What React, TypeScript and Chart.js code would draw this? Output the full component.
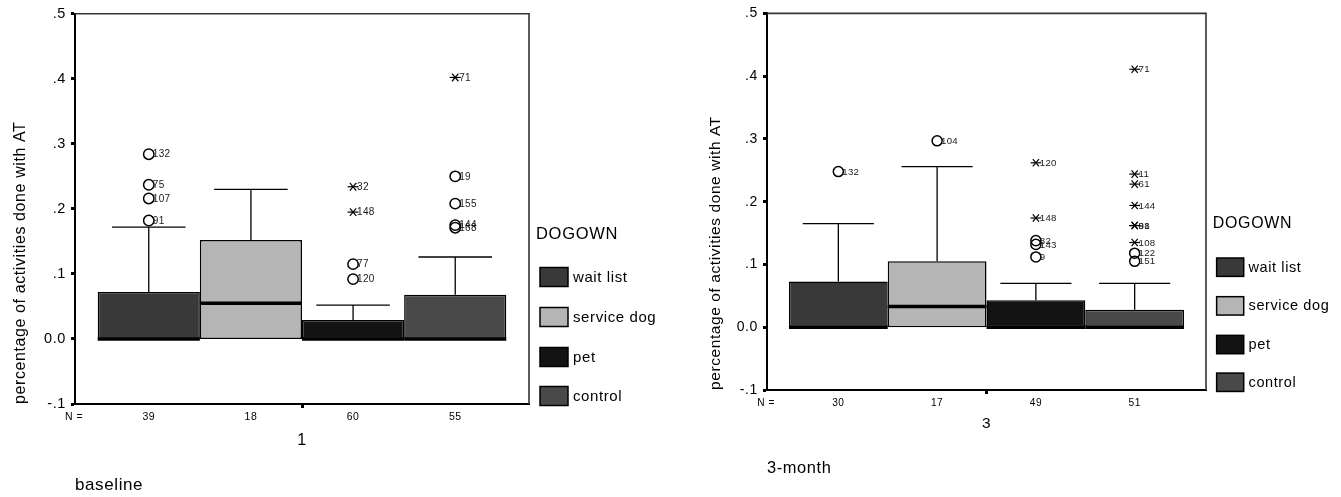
import React, { useEffect, useRef } from "react";
import { Chart, registerables } from "chart.js";

Chart.register(...registerables);

const FONT = "'Liberation Sans', Arial, Helvetica, sans-serif";

// ---------- shared ----------
const groupNames = ["wait list", "service dog", "pet", "control"];
const groupColors = ["#393939", "#b5b5b5", "#131313", "#494949"];
const legendTitle = "DOGOWN";
const yAxisTitle = "percentage of activities done with AT";
const yMin = -0.1;
const yMax = 0.5;
const yStep = 0.1;

// ---------- baseline panel ----------
const baselineCategories = ["1"];
const baselineTitle = "baseline";
const baselineN = [39, 18, 60, 55];
const baselineLowerWhisker = [0, 0, 0, 0];
const baselineQ1 = [0, 0, 0, 0];
const baselineMedian = [0, 0.055, 0, 0];
const baselineQ3 = [0.072, 0.152, 0.029, 0.068];
const baselineUpperWhisker = [0.172, 0.23, 0.052, 0.126];
const baselineOutlierValues = [[0.284, 0.237, 0.216, 0.182], [], [0.115, 0.092], [0.25, 0.208, 0.175, 0.171]];
const baselineOutlierIds = [["132", "75", "107", "91"], [], ["77", "120"], ["19", "155", "144", "168"]];
const baselineExtremeValues = [[], [], [0.234, 0.195], [0.402]];
const baselineExtremeIds = [[], [], ["32", "148"], ["71"]];

// ---------- 3-month panel ----------
const monthCategories = ["3"];
const monthTitle = "3-month";
const monthN = [30, 17, 49, 51];
const monthLowerWhisker = [0, 0, 0, 0];
const monthQ1 = [0, 0, 0, 0];
const monthMedian = [0, 0.033, 0, 0];
const monthQ3 = [0.073, 0.105, 0.043, 0.028];
const monthUpperWhisker = [0.165, 0.256, 0.07, 0.07];
const monthOutlierValues = [[0.248], [0.297], [0.138, 0.132, 0.112], [0.118, 0.105]];
const monthOutlierIds = [["132"], ["104"], ["82", "143", "9"], ["122", "151"]];
const monthExtremeValues = [[], [], [0.262, 0.174], [0.411, 0.244, 0.228, 0.194, 0.162, 0.162, 0.135]];
const monthExtremeIds = [[], [], ["120", "148"], ["71", "11", "61", "144", "98", "81", "108"]];

type PanelData = {
  categories: string[];
  title: string;
  n: number[];
  lo: number[];
  q1: number[];
  med: number[];
  q3: number[];
  hi: number[];
  outV: number[][];
  outId: string[][];
  extV: number[][];
  extId: string[][];
};

type PanelLayout = {
  left: number;
  width: number;
  height: number;
  plotLeft: number;
  plotRight: number;
  plotTop: number;
  plotBottom: number;
  s: number;
  xTitleCenterFromBottom: number;
  tickLabelOffset: number;
  legendTop: number;
};

const panels: { data: PanelData; layout: PanelLayout }[] = [
  {
    data: {
      categories: baselineCategories,
      title: baselineTitle,
      n: baselineN,
      lo: baselineLowerWhisker,
      q1: baselineQ1,
      med: baselineMedian,
      q3: baselineQ3,
      hi: baselineUpperWhisker,
      outV: baselineOutlierValues,
      outId: baselineOutlierIds,
      extV: baselineExtremeValues,
      extId: baselineExtremeIds,
    },
    layout: {
      left: 0,
      width: 695,
      height: 497,
      plotLeft: 75,
      plotRight: 529,
      plotTop: 12,
      plotBottom: 404,
      s: 1,
      xTitleCenterFromBottom: 11.5,
      tickLabelOffset: 36,
      legendTop: 170,
    },
  },
  {
    data: {
      categories: monthCategories,
      title: monthTitle,
      n: monthN,
      lo: monthLowerWhisker,
      q1: monthQ1,
      med: monthMedian,
      q3: monthQ3,
      hi: monthUpperWhisker,
      outV: monthOutlierValues,
      outId: monthOutlierIds,
      extV: monthExtremeValues,
      extId: monthExtremeIds,
    },
    layout: {
      left: 695,
      width: 646,
      height: 497,
      plotLeft: 72,
      plotRight: 511,
      plotTop: 11,
      plotBottom: 390,
      s: 0.967,
      xTitleCenterFromBottom: 29,
      tickLabelOffset: 34,
      legendTop: 172,
    },
  },
];

function fmtTick(v: number): string {
  if (Math.abs(v) < 1e-9) return "0.0";
  return v.toFixed(1).replace(/^(-?)0\./, "$1.");
}

function makePlugin(d: PanelData, L: PanelLayout) {
  const s = L.s;
  const line = (ctx: CanvasRenderingContext2D, x1: number, y1: number, x2: number, y2: number) => {
    ctx.beginPath();
    ctx.moveTo(x1, y1);
    ctx.lineTo(x2, y2);
    ctx.stroke();
  };
  return {
    id: "boxplotExtras",
    beforeDraw(chart: any) {
      (chart.ctx as any).letterSpacing = "0.6px";
    },
    afterDatasetsDraw(chart: any) {
      const ctx: CanvasRenderingContext2D = chart.ctx;
      const y = chart.scales.y;
      ctx.save();
      ctx.strokeStyle = "#000";
      for (let i = 0; i < groupNames.length; i++) {
        const bar: any = chart.getDatasetMeta(i).data[0];
        const cx = bar.x;
        const w = bar.width;
        const yq3 = y.getPixelForValue(d.q3[i]);
        const yhi = y.getPixelForValue(d.hi[i]);
        const yq1 = y.getPixelForValue(d.q1[i]);
        const ylo = y.getPixelForValue(d.lo[i]);
        ctx.lineWidth = 1.3;
        if (yhi < yq3 - 0.5) {
          line(ctx, cx, yq3, cx, yhi);
          line(ctx, cx - w * 0.36, yhi, cx + w * 0.36, yhi);
        }
        if (ylo > yq1 + 0.5) {
          line(ctx, cx, yq1, cx, ylo);
          line(ctx, cx - w * 0.36, ylo, cx + w * 0.36, ylo);
        }
        ctx.lineWidth = 3.5;
        const ym = y.getPixelForValue(d.med[i]);
        line(ctx, cx - w / 2, ym, cx + w / 2, ym);

        // outliers (circles)
        ctx.font = `${10 * s}px ${FONT}`;
        (ctx as any).letterSpacing = "0.3px";
        ctx.textBaseline = "middle";
        ctx.textAlign = "left";
        d.outV[i].forEach((v, k) => {
          const py = y.getPixelForValue(v);
          ctx.lineWidth = 1.5;
          ctx.beginPath();
          ctx.arc(cx, py, 5.2 * s, 0, Math.PI * 2);
          ctx.stroke();
          ctx.fillStyle = "#1a1a1a";
          ctx.fillText(d.outId[i][k], cx + 4 * s, py + 0.5);
        });
        // extremes (asterisks)
        d.extV[i].forEach((v, k) => {
          const py = y.getPixelForValue(v);
          ctx.lineWidth = 1.2;
          line(ctx, cx - 5.5 * s, py, cx + 5.5 * s, py);
          line(ctx, cx - 3.2 * s, py - 3.8 * s, cx + 3.2 * s, py + 3.8 * s);
          line(ctx, cx - 3.2 * s, py + 3.8 * s, cx + 3.2 * s, py - 3.8 * s);
          ctx.fillStyle = "#1a1a1a";
          ctx.fillText(d.extId[i][k], cx + 4 * s, py + 0.5);
        });
      }
      ctx.restore();
    },
    afterDraw(chart: any) {
      const ctx: CanvasRenderingContext2D = chart.ctx;
      const a = chart.chartArea;
      ctx.save();
      // top and right frame
      ctx.strokeStyle = "#333";
      ctx.lineWidth = 1.6;
      ctx.beginPath();
      ctx.moveTo(a.left, a.top);
      ctx.lineTo(a.right, a.top);
      ctx.lineTo(a.right, a.bottom);
      ctx.stroke();

      // N row
      ctx.fillStyle = "#000";
      (ctx as any).letterSpacing = "0.5px";
      ctx.font = `${10.5 * s}px ${FONT}`;
      ctx.textBaseline = "middle";
      ctx.textAlign = "left";
      const ny = a.bottom + 13.5 * s;
      ctx.fillText("N =", a.left - 10 * s, ny);
      ctx.textAlign = "center";
      for (let i = 0; i < groupNames.length; i++) {
        const bar: any = chart.getDatasetMeta(i).data[0];
        ctx.fillText(String(d.n[i]), bar.x, ny);
      }

      // legend
      (ctx as any).letterSpacing = "0.7px";
      ctx.textAlign = "left";
      ctx.font = `${16.5 * s}px ${FONT}`;
      ctx.fillText(legendTitle, a.right + 7 * s, a.bottom - L.legendTop * s);
      const offsets = [127, 87, 47, 8];
      ctx.font = `${15 * s}px ${FONT}`;
      (ctx as any).letterSpacing = "0.6px";
      for (let i = 0; i < groupNames.length; i++) {
        const cy = a.bottom - offsets[i] * s;
        const bx = a.right + 11 * s;
        const bw = 28 * s;
        const bh = 19 * s;
        ctx.fillStyle = groupColors[i];
        ctx.fillRect(bx, cy - bh / 2, bw, bh);
        ctx.strokeStyle = "#000";
        ctx.lineWidth = 1.5;
        ctx.strokeRect(bx, cy - bh / 2, bw, bh);
        ctx.fillStyle = "#000";
        ctx.fillText(groupNames[i], a.right + 44 * s, cy + 0.5);
      }
      ctx.restore();
    },
  };
}

function BoxPanel({ data, layout }: { data: PanelData; layout: PanelLayout }) {
  const ref = useRef<HTMLCanvasElement | null>(null);
  useEffect(() => {
    if (!ref.current) return;
    const L = layout;
    const s = L.s;
    const chart = new Chart(ref.current, {
      type: "bar",
      data: {
        labels: data.categories,
        datasets: groupNames.map((g, i) => ({
          label: g,
          data: [[data.q1[i], data.q3[i]]] as any,
          backgroundColor: groupColors[i],
          borderColor: "#000",
          borderWidth: 1.5,
          borderSkipped: false,
          categoryPercentage: 0.9,
          barPercentage: 1,
        })),
      },
      options: {
        animation: false,
        responsive: false,
        maintainAspectRatio: false,
        events: [],
        layout: {
          padding: { top: L.plotTop, right: L.width - L.plotRight, bottom: 0, left: 0 },
        },
        plugins: {
          legend: { display: false },
          tooltip: { enabled: false },
        },
        scales: {
          x: {
            type: "category",
            offset: true,
            grid: {
              display: true,
              drawOnChartArea: false,
              offset: false,
              drawTicks: true,
              tickLength: 4,
              tickWidth: 3,
              tickColor: "#000",
            },
            border: { display: true, color: "#000", width: 2 },
            ticks: {
              color: "#000",
              font: { family: FONT, size: 16 * s },
              padding: L.tickLabelOffset - 4 - 9.5 * s,
              maxRotation: 0,
            },
            title: {
              display: true,
              text: data.title,
              align: "start",
              color: "#000",
              font: { family: FONT, size: 17 * s, lineHeight: 1.2 },
              padding: { top: 0, bottom: L.xTitleCenterFromBottom - 10.2 * s },
            },
            afterFit: (sc: any) => {
              sc.height = L.height - L.plotBottom;
            },
          } as any,
          y: {
            min: yMin,
            max: yMax,
            grid: {
              display: true,
              drawOnChartArea: false,
              drawTicks: true,
              tickLength: 4,
              tickWidth: 3,
              tickColor: "#000",
            },
            border: { display: true, color: "#000", width: 2 },
            ticks: {
              stepSize: yStep,
              color: "#000",
              font: { family: FONT, size: 14.5 * s },
              padding: 5,
              callback: (v: any) => fmtTick(Number(v)),
            },
            title: {
              display: true,
              text: yAxisTitle,
              align: "start",
              color: "#000",
              font: { family: FONT, size: 16 * s, lineHeight: 1.2 },
              padding: { top: 20.5 - 9.6 * s, bottom: 0 },
            },
            afterFit: (sc: any) => {
              sc.width = L.plotLeft;
            },
          } as any,
        },
      },
      plugins: [makePlugin(data, layout) as any],
    });
    return () => chart.destroy();
  }, [data, layout]);
  return (
    <canvas
      ref={ref}
      width={layout.width}
      height={layout.height}
      style={{
        position: "absolute",
        left: layout.left,
        top: 0,
        width: layout.width,
        height: layout.height,
        display: "block",
      }}
    />
  );
}

export default function App() {
  useEffect(() => {
    document.body.style.margin = "0";
  }, []);
  return (
    <div style={{ position: "relative", width: 1341, height: 497, background: "#fff", overflow: "hidden" }}>
      {panels.map((p, i) => (
        <BoxPanel key={i} data={p.data} layout={p.layout} />
      ))}
    </div>
  );
}
